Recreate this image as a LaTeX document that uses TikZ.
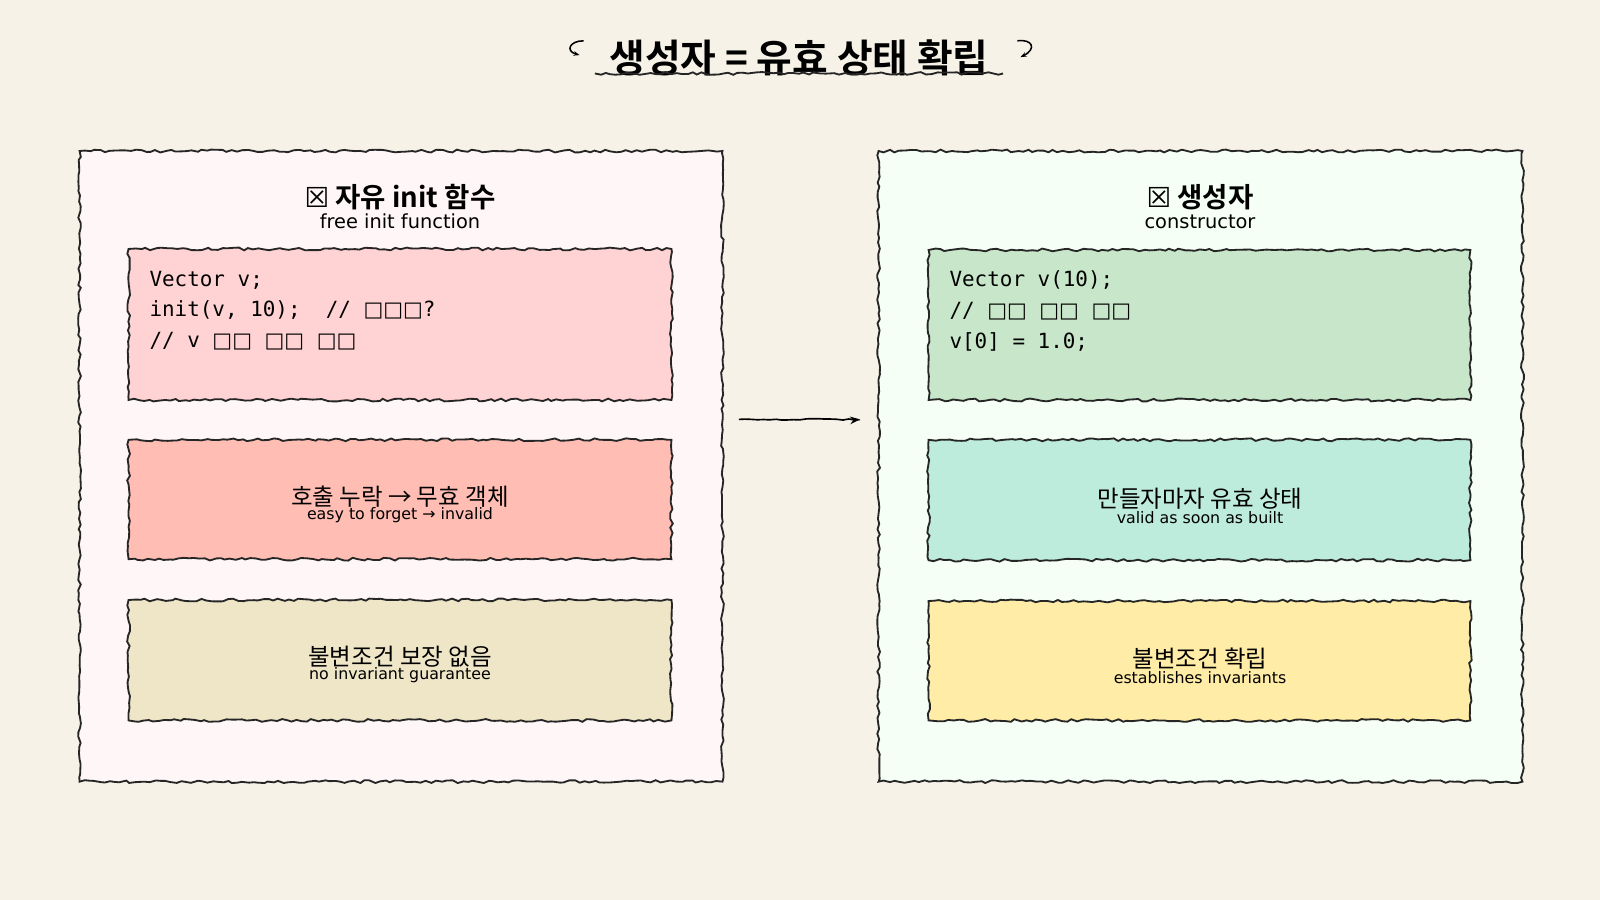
\documentclass[tikz,border=0pt]{standalone}
\usepackage{fontspec}
\setmainfont{Noto Sans CJK KR}
\newfontfamily\kr{Noto Sans CJK KR}
\newfontfamily\krb{Noto Sans CJK KR}[BoldFont={* Bold}]
\newfontfamily\code{DejaVu Sans Mono}
\newfontfamily\sym{DejaVu Sans}
\usetikzlibrary{decorations.pathmorphing,arrows.meta}
\definecolor{bg}{HTML}{F6F2E8}
\begin{document}
\begin{tikzpicture}[x=1pt,y=-1pt,
  rough/.style={draw=black!85,line width=1.8pt,decorate,decoration={random steps,segment length=5pt,amplitude=1.4pt}},
  panel/.style={rough},
  card/.style={rough},
  ttl/.style={font=\krb\fontsize{27}{30}\selectfont\bfseries},
  sub/.style={font=\sym\fontsize{19}{21}\selectfont},
  body/.style={font=\kr\fontsize{23}{25}\selectfont},
  bsub/.style={font=\sym\fontsize{15.5}{17}\selectfont},
  cd/.style={font=\code\fontsize{20.5}{30}\selectfont,anchor=north west,align=left}]
\fill[bg] (0,0) rectangle (1568,882);
\useasboundingbox (0,0) rectangle (1568,882);
% title
\node[font=\krb\fontsize{38}{40}\selectfont\bfseries] (title) at (783,57) {생성자 = 유효 상태 확립};
\draw[line width=1.8pt,rough] (583,72) -- (983,72);
\draw[line width=1.5pt,-{Stealth[length=6pt]}] (572,40) .. controls (558,40) and (554,50) .. (568,54);
\draw[line width=1.5pt,-{Stealth[length=6pt]}] (997,40) .. controls (1012,38) and (1016,48) .. (1000,56);
% panels
\filldraw[panel,fill=white!97!red] (78,148) rectangle (708,766);
\filldraw[panel,fill=green!4!white] (861,148) rectangle (1492,766);
% left
\node[ttl] (lt) at (392,193) {{\sym ☒} 자유 init 함수};
\node[sub] (ls) at (392,217) {free init function};
\filldraw[card,fill={rgb,255:red,255;green,211;blue,211}] (126,244) rectangle (658,392);
\node[cd] (lc) at (143,262) {Vector v;\\init(v, 10);\ \ // {\sym □□□}?\\// v {\sym □□} {\sym □□} {\sym □□}};
\filldraw[card,fill={rgb,255:red,255;green,189;blue,179}] (126,431) rectangle (658,548);
\node[body] (l2) at (392,487) {호출 누락 → 무효 객체};
\node[bsub] (l2s) at (392,505) {easy to forget → invalid};
\filldraw[card,fill={rgb,255:red,239;green,230;blue,200}] (126,588) rectangle (658,706);
\node[body] (l3) at (392,644) {불변조건 보장 없음};
\node[bsub] (l3s) at (392,662) {no invariant guarantee};
% right
\node[ttl] (rt) at (1176,193) {{\sym ☒} 생성자};
\node[sub] (rs) at (1176,217) {constructor};
\filldraw[card,fill={rgb,255:red,200;green,230;blue,201}] (910,245) rectangle (1441,392);
\node[cd] (rc) at (927,262) {Vector v(10);\\// {\sym □□} {\sym □□} {\sym □□}\\v[0] = 1.0;};
\filldraw[card,fill={rgb,255:red,189;green,235;blue,220}] (910,431) rectangle (1441,549);
\node[body] (r2) at (1176,489) {만들자마자 유효 상태};
\node[bsub] (r2s) at (1176,507) {valid as soon as built};
\filldraw[card,fill={rgb,255:red,255;green,236;blue,166}] (910,589) rectangle (1441,706);
\node[body] (r3) at (1176,645) {불변조건 확립};
\node[bsub] (r3s) at (1176,664) {establishes invariants};
% arrow
\coordinate (a1) at (724,411); \coordinate (a2) at (843,411);
\draw[line width=1.6pt,-{Stealth[length=10pt]},decorate,decoration={random steps,segment length=6pt,amplitude=0.7pt}] (a1) -- (a2);
\end{tikzpicture}
\end{document}
